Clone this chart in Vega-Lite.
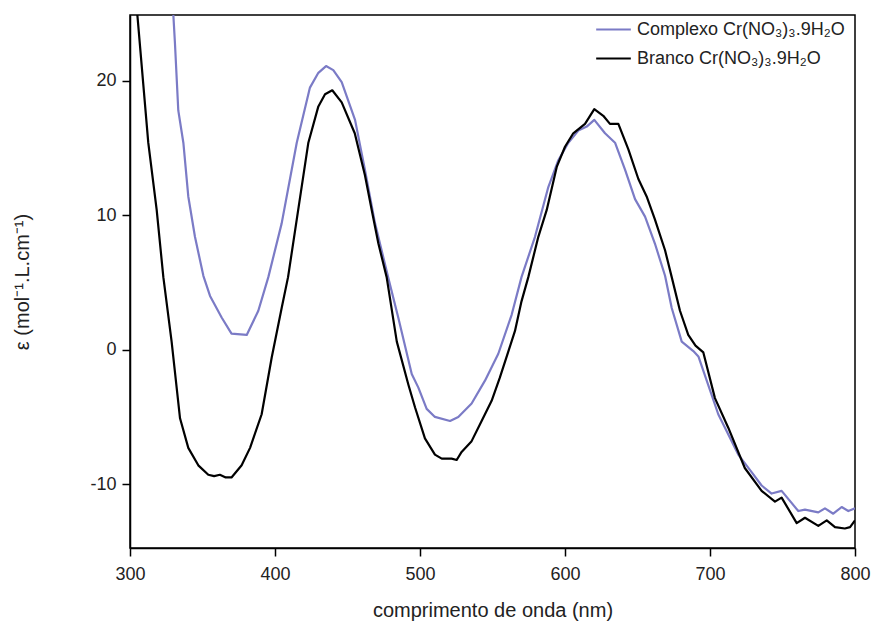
{
  "$schema": "https://vega.github.io/schema/vega-lite/v6.json",
  "width": 725,
  "height": 533,
  "autosize": {"type": "none"},
  "padding": {"left": 130, "top": 15, "right": 20, "bottom": 84},
  "background": "white",
  "config": {
    "font": "Liberation Sans",
    "view": {"stroke": "black", "strokeWidth": 1.5}
  },
  "data": {"values": [
    {"s": "Complexo Cr(NO₃)₃.9H₂O", "nm": 326, "v": 30},
    {"s": "Complexo Cr(NO₃)₃.9H₂O", "nm": 329.9, "v": 24.9},
    {"s": "Complexo Cr(NO₃)₃.9H₂O", "nm": 331, "v": 22.8},
    {"s": "Complexo Cr(NO₃)₃.9H₂O", "nm": 333.3, "v": 17.8},
    {"s": "Complexo Cr(NO₃)₃.9H₂O", "nm": 336.8, "v": 15.4},
    {"s": "Complexo Cr(NO₃)₃.9H₂O", "nm": 340.2, "v": 11.4},
    {"s": "Complexo Cr(NO₃)₃.9H₂O", "nm": 344.8, "v": 8.4},
    {"s": "Complexo Cr(NO₃)₃.9H₂O", "nm": 350.6, "v": 5.5},
    {"s": "Complexo Cr(NO₃)₃.9H₂O", "nm": 355.2, "v": 4.0},
    {"s": "Complexo Cr(NO₃)₃.9H₂O", "nm": 363.2, "v": 2.4},
    {"s": "Complexo Cr(NO₃)₃.9H₂O", "nm": 370, "v": 1.2},
    {"s": "Complexo Cr(NO₃)₃.9H₂O", "nm": 380.5, "v": 1.1},
    {"s": "Complexo Cr(NO₃)₃.9H₂O", "nm": 388.5, "v": 2.9},
    {"s": "Complexo Cr(NO₃)₃.9H₂O", "nm": 395.4, "v": 5.4},
    {"s": "Complexo Cr(NO₃)₃.9H₂O", "nm": 404.6, "v": 9.4},
    {"s": "Complexo Cr(NO₃)₃.9H₂O", "nm": 415, "v": 15.4},
    {"s": "Complexo Cr(NO₃)₃.9H₂O", "nm": 424.1, "v": 19.5},
    {"s": "Complexo Cr(NO₃)₃.9H₂O", "nm": 429.9, "v": 20.6},
    {"s": "Complexo Cr(NO₃)₃.9H₂O", "nm": 435.2, "v": 21.1},
    {"s": "Complexo Cr(NO₃)₃.9H₂O", "nm": 440.2, "v": 20.8},
    {"s": "Complexo Cr(NO₃)₃.9H₂O", "nm": 446, "v": 19.9},
    {"s": "Complexo Cr(NO₃)₃.9H₂O", "nm": 455.2, "v": 17.1},
    {"s": "Complexo Cr(NO₃)₃.9H₂O", "nm": 462, "v": 13.4},
    {"s": "Complexo Cr(NO₃)₃.9H₂O", "nm": 469, "v": 9.4},
    {"s": "Complexo Cr(NO₃)₃.9H₂O", "nm": 478, "v": 5.4},
    {"s": "Complexo Cr(NO₃)₃.9H₂O", "nm": 485, "v": 2.4},
    {"s": "Complexo Cr(NO₃)₃.9H₂O", "nm": 494.3, "v": -1.8},
    {"s": "Complexo Cr(NO₃)₃.9H₂O", "nm": 498.8, "v": -2.8},
    {"s": "Complexo Cr(NO₃)₃.9H₂O", "nm": 504.6, "v": -4.4},
    {"s": "Complexo Cr(NO₃)₃.9H₂O", "nm": 510.3, "v": -5.0},
    {"s": "Complexo Cr(NO₃)₃.9H₂O", "nm": 520.7, "v": -5.3},
    {"s": "Complexo Cr(NO₃)₃.9H₂O", "nm": 526.4, "v": -5.0},
    {"s": "Complexo Cr(NO₃)₃.9H₂O", "nm": 535.6, "v": -4.0},
    {"s": "Complexo Cr(NO₃)₃.9H₂O", "nm": 544.8, "v": -2.3},
    {"s": "Complexo Cr(NO₃)₃.9H₂O", "nm": 554, "v": -0.3},
    {"s": "Complexo Cr(NO₃)₃.9H₂O", "nm": 563.2, "v": 2.6},
    {"s": "Complexo Cr(NO₃)₃.9H₂O", "nm": 570, "v": 5.4},
    {"s": "Complexo Cr(NO₃)₃.9H₂O", "nm": 579.3, "v": 8.4},
    {"s": "Complexo Cr(NO₃)₃.9H₂O", "nm": 588.5, "v": 12.1},
    {"s": "Complexo Cr(NO₃)₃.9H₂O", "nm": 595.4, "v": 14.1},
    {"s": "Complexo Cr(NO₃)₃.9H₂O", "nm": 602.3, "v": 15.4},
    {"s": "Complexo Cr(NO₃)₃.9H₂O", "nm": 609.2, "v": 16.3},
    {"s": "Complexo Cr(NO₃)₃.9H₂O", "nm": 615, "v": 16.6},
    {"s": "Complexo Cr(NO₃)₃.9H₂O", "nm": 620.2, "v": 17.1},
    {"s": "Complexo Cr(NO₃)₃.9H₂O", "nm": 627.6, "v": 16.1},
    {"s": "Complexo Cr(NO₃)₃.9H₂O", "nm": 634.5, "v": 15.4},
    {"s": "Complexo Cr(NO₃)₃.9H₂O", "nm": 641.4, "v": 13.4},
    {"s": "Complexo Cr(NO₃)₃.9H₂O", "nm": 648.3, "v": 11.2},
    {"s": "Complexo Cr(NO₃)₃.9H₂O", "nm": 655.2, "v": 9.9},
    {"s": "Complexo Cr(NO₃)₃.9H₂O", "nm": 662, "v": 7.9},
    {"s": "Complexo Cr(NO₃)₃.9H₂O", "nm": 669, "v": 5.5},
    {"s": "Complexo Cr(NO₃)₃.9H₂O", "nm": 673.6, "v": 3.1},
    {"s": "Complexo Cr(NO₃)₃.9H₂O", "nm": 680.5, "v": 0.6},
    {"s": "Complexo Cr(NO₃)₃.9H₂O", "nm": 688.5, "v": -0.1},
    {"s": "Complexo Cr(NO₃)₃.9H₂O", "nm": 692, "v": -0.5},
    {"s": "Complexo Cr(NO₃)₃.9H₂O", "nm": 705.7, "v": -4.8},
    {"s": "Complexo Cr(NO₃)₃.9H₂O", "nm": 719.5, "v": -7.8},
    {"s": "Complexo Cr(NO₃)₃.9H₂O", "nm": 728.7, "v": -9.1},
    {"s": "Complexo Cr(NO₃)₃.9H₂O", "nm": 735.6, "v": -10.1},
    {"s": "Complexo Cr(NO₃)₃.9H₂O", "nm": 742.5, "v": -10.7},
    {"s": "Complexo Cr(NO₃)₃.9H₂O", "nm": 749.4, "v": -10.5},
    {"s": "Complexo Cr(NO₃)₃.9H₂O", "nm": 760.9, "v": -12.0},
    {"s": "Complexo Cr(NO₃)₃.9H₂O", "nm": 765.5, "v": -11.9},
    {"s": "Complexo Cr(NO₃)₃.9H₂O", "nm": 774.7, "v": -12.1},
    {"s": "Complexo Cr(NO₃)₃.9H₂O", "nm": 779.3, "v": -11.8},
    {"s": "Complexo Cr(NO₃)₃.9H₂O", "nm": 785, "v": -12.2},
    {"s": "Complexo Cr(NO₃)₃.9H₂O", "nm": 790.8, "v": -11.7},
    {"s": "Complexo Cr(NO₃)₃.9H₂O", "nm": 795.4, "v": -12.0},
    {"s": "Complexo Cr(NO₃)₃.9H₂O", "nm": 800, "v": -11.8},
    {"s": "Branco Cr(NO₃)₃.9H₂O", "nm": 300, "v": 30.5},
    {"s": "Branco Cr(NO₃)₃.9H₂O", "nm": 305, "v": 25},
    {"s": "Branco Cr(NO₃)₃.9H₂O", "nm": 312.6, "v": 15.4},
    {"s": "Branco Cr(NO₃)₃.9H₂O", "nm": 318.4, "v": 10.4},
    {"s": "Branco Cr(NO₃)₃.9H₂O", "nm": 323, "v": 5.4},
    {"s": "Branco Cr(NO₃)₃.9H₂O", "nm": 328.7, "v": 0.6},
    {"s": "Branco Cr(NO₃)₃.9H₂O", "nm": 334.5, "v": -5.1},
    {"s": "Branco Cr(NO₃)₃.9H₂O", "nm": 340.2, "v": -7.3},
    {"s": "Branco Cr(NO₃)₃.9H₂O", "nm": 347.1, "v": -8.6},
    {"s": "Branco Cr(NO₃)₃.9H₂O", "nm": 354, "v": -9.3},
    {"s": "Branco Cr(NO₃)₃.9H₂O", "nm": 358, "v": -9.4},
    {"s": "Branco Cr(NO₃)₃.9H₂O", "nm": 362, "v": -9.3},
    {"s": "Branco Cr(NO₃)₃.9H₂O", "nm": 366, "v": -9.5},
    {"s": "Branco Cr(NO₃)₃.9H₂O", "nm": 370, "v": -9.5},
    {"s": "Branco Cr(NO₃)₃.9H₂O", "nm": 377, "v": -8.6},
    {"s": "Branco Cr(NO₃)₃.9H₂O", "nm": 382.8, "v": -7.3},
    {"s": "Branco Cr(NO₃)₃.9H₂O", "nm": 390.8, "v": -4.8},
    {"s": "Branco Cr(NO₃)₃.9H₂O", "nm": 397.7, "v": -0.6},
    {"s": "Branco Cr(NO₃)₃.9H₂O", "nm": 404.6, "v": 3.1},
    {"s": "Branco Cr(NO₃)₃.9H₂O", "nm": 409, "v": 5.4},
    {"s": "Branco Cr(NO₃)₃.9H₂O", "nm": 416, "v": 10.4},
    {"s": "Branco Cr(NO₃)₃.9H₂O", "nm": 423, "v": 15.4},
    {"s": "Branco Cr(NO₃)₃.9H₂O", "nm": 429.9, "v": 18.1},
    {"s": "Branco Cr(NO₃)₃.9H₂O", "nm": 434.5, "v": 19.0},
    {"s": "Branco Cr(NO₃)₃.9H₂O", "nm": 439.5, "v": 19.3},
    {"s": "Branco Cr(NO₃)₃.9H₂O", "nm": 446, "v": 18.4},
    {"s": "Branco Cr(NO₃)₃.9H₂O", "nm": 455, "v": 16.1},
    {"s": "Branco Cr(NO₃)₃.9H₂O", "nm": 462, "v": 13.0},
    {"s": "Branco Cr(NO₃)₃.9H₂O", "nm": 466.7, "v": 10.4},
    {"s": "Branco Cr(NO₃)₃.9H₂O", "nm": 471.3, "v": 7.9},
    {"s": "Branco Cr(NO₃)₃.9H₂O", "nm": 477, "v": 5.4},
    {"s": "Branco Cr(NO₃)₃.9H₂O", "nm": 484, "v": 0.6},
    {"s": "Branco Cr(NO₃)₃.9H₂O", "nm": 492, "v": -2.6},
    {"s": "Branco Cr(NO₃)₃.9H₂O", "nm": 496.6, "v": -4.3},
    {"s": "Branco Cr(NO₃)₃.9H₂O", "nm": 503.4, "v": -6.6},
    {"s": "Branco Cr(NO₃)₃.9H₂O", "nm": 510.3, "v": -7.8},
    {"s": "Branco Cr(NO₃)₃.9H₂O", "nm": 515, "v": -8.1},
    {"s": "Branco Cr(NO₃)₃.9H₂O", "nm": 521.8, "v": -8.1},
    {"s": "Branco Cr(NO₃)₃.9H₂O", "nm": 525.3, "v": -8.2},
    {"s": "Branco Cr(NO₃)₃.9H₂O", "nm": 528.7, "v": -7.6},
    {"s": "Branco Cr(NO₃)₃.9H₂O", "nm": 535.6, "v": -6.8},
    {"s": "Branco Cr(NO₃)₃.9H₂O", "nm": 542.5, "v": -5.3},
    {"s": "Branco Cr(NO₃)₃.9H₂O", "nm": 549.4, "v": -3.8},
    {"s": "Branco Cr(NO₃)₃.9H₂O", "nm": 555, "v": -2.1},
    {"s": "Branco Cr(NO₃)₃.9H₂O", "nm": 561, "v": -0.1},
    {"s": "Branco Cr(NO₃)₃.9H₂O", "nm": 565.5, "v": 1.4},
    {"s": "Branco Cr(NO₃)₃.9H₂O", "nm": 570, "v": 3.6},
    {"s": "Branco Cr(NO₃)₃.9H₂O", "nm": 574.7, "v": 5.4},
    {"s": "Branco Cr(NO₃)₃.9H₂O", "nm": 581.6, "v": 8.4},
    {"s": "Branco Cr(NO₃)₃.9H₂O", "nm": 587.4, "v": 10.4},
    {"s": "Branco Cr(NO₃)₃.9H₂O", "nm": 594.3, "v": 13.6},
    {"s": "Branco Cr(NO₃)₃.9H₂O", "nm": 600, "v": 15.1},
    {"s": "Branco Cr(NO₃)₃.9H₂O", "nm": 605.7, "v": 16.1},
    {"s": "Branco Cr(NO₃)₃.9H₂O", "nm": 613.8, "v": 16.8},
    {"s": "Branco Cr(NO₃)₃.9H₂O", "nm": 620.2, "v": 17.9},
    {"s": "Branco Cr(NO₃)₃.9H₂O", "nm": 626.4, "v": 17.4},
    {"s": "Branco Cr(NO₃)₃.9H₂O", "nm": 631, "v": 16.8},
    {"s": "Branco Cr(NO₃)₃.9H₂O", "nm": 636.8, "v": 16.8},
    {"s": "Branco Cr(NO₃)₃.9H₂O", "nm": 643.7, "v": 14.9},
    {"s": "Branco Cr(NO₃)₃.9H₂O", "nm": 650.6, "v": 12.7},
    {"s": "Branco Cr(NO₃)₃.9H₂O", "nm": 656.3, "v": 11.4},
    {"s": "Branco Cr(NO₃)₃.9H₂O", "nm": 662, "v": 9.7},
    {"s": "Branco Cr(NO₃)₃.9H₂O", "nm": 669, "v": 7.4},
    {"s": "Branco Cr(NO₃)₃.9H₂O", "nm": 673.6, "v": 5.4},
    {"s": "Branco Cr(NO₃)₃.9H₂O", "nm": 679.3, "v": 2.9},
    {"s": "Branco Cr(NO₃)₃.9H₂O", "nm": 685, "v": 1.1},
    {"s": "Branco Cr(NO₃)₃.9H₂O", "nm": 690, "v": 0.3},
    {"s": "Branco Cr(NO₃)₃.9H₂O", "nm": 695.4, "v": -0.2},
    {"s": "Branco Cr(NO₃)₃.9H₂O", "nm": 703.4, "v": -3.6},
    {"s": "Branco Cr(NO₃)₃.9H₂O", "nm": 712.6, "v": -5.8},
    {"s": "Branco Cr(NO₃)₃.9H₂O", "nm": 724, "v": -8.8},
    {"s": "Branco Cr(NO₃)₃.9H₂O", "nm": 735.6, "v": -10.5},
    {"s": "Branco Cr(NO₃)₃.9H₂O", "nm": 744.8, "v": -11.3},
    {"s": "Branco Cr(NO₃)₃.9H₂O", "nm": 749.4, "v": -11.0},
    {"s": "Branco Cr(NO₃)₃.9H₂O", "nm": 759.8, "v": -12.9},
    {"s": "Branco Cr(NO₃)₃.9H₂O", "nm": 765.5, "v": -12.5},
    {"s": "Branco Cr(NO₃)₃.9H₂O", "nm": 774.7, "v": -13.1},
    {"s": "Branco Cr(NO₃)₃.9H₂O", "nm": 780.5, "v": -12.7},
    {"s": "Branco Cr(NO₃)₃.9H₂O", "nm": 786.2, "v": -13.2},
    {"s": "Branco Cr(NO₃)₃.9H₂O", "nm": 793, "v": -13.3},
    {"s": "Branco Cr(NO₃)₃.9H₂O", "nm": 796.6, "v": -13.2},
    {"s": "Branco Cr(NO₃)₃.9H₂O", "nm": 800, "v": -12.7}
  ]},
  "mark": {"type": "line", "clip": true, "strokeWidth": 2.2, "strokeJoin": "round"},
  "encoding": {
    "x": {"field": "nm", "type": "quantitative", "scale": {"domain": [300, 800], "nice": false, "zero": false},
      "axis": {"values": [300, 400, 500, 600, 700, 800], "title": "comprimento de onda (nm)", "grid": false,
        "domainColor": "black", "domainWidth": 1.5, "tickColor": "black", "tickWidth": 1.5, "tickSize": 8,
        "labelColor": "#222", "labelFontSize": 18, "titleFontSize": 20, "titleFontWeight": "normal", "titleColor": "#222",
        "labelFont": "Liberation Sans", "titleFont": "Liberation Sans",
        "labelPadding": 9, "titlePadding": 17, "labelFlush": false}},
    "y": {"field": "v", "type": "quantitative", "scale": {"domain": [-14.75, 24.9], "nice": false, "zero": false},
      "axis": {"values": [-10, 0, 10, 20], "title": "ε (mol⁻¹.L.cm⁻¹)", "grid": false,
        "labelExpr": "replace(datum.label, '−', '-')",
        "domainColor": "black", "domainWidth": 1.5, "tickColor": "black", "tickWidth": 1.5, "tickSize": 8,
        "labelColor": "#222", "labelFontSize": 18, "titleFontSize": 20, "titleFontWeight": "normal", "titleColor": "#222",
        "labelFont": "Liberation Sans", "titleFont": "Liberation Sans",
        "labelPadding": 6, "titlePadding": 57}},
    "color": {"field": "s", "type": "nominal", "sort": null,
      "scale": {"domain": ["Complexo Cr(NO₃)₃.9H₂O", "Branco Cr(NO₃)₃.9H₂O"], "range": ["#7b7bc6", "#000000"]},
      "legend": {"title": null, "orient": "none", "legendX": 465, "legendY": -4, "symbolType": "stroke", "symbolSize": 1200, "symbolStrokeWidth": 2.2, "labelFontSize": 18, "labelColor": "#222", "labelFont": "Liberation Sans", "labelLimit": 0, "rowPadding": 1, "labelOffset": 5}}
  }
}
